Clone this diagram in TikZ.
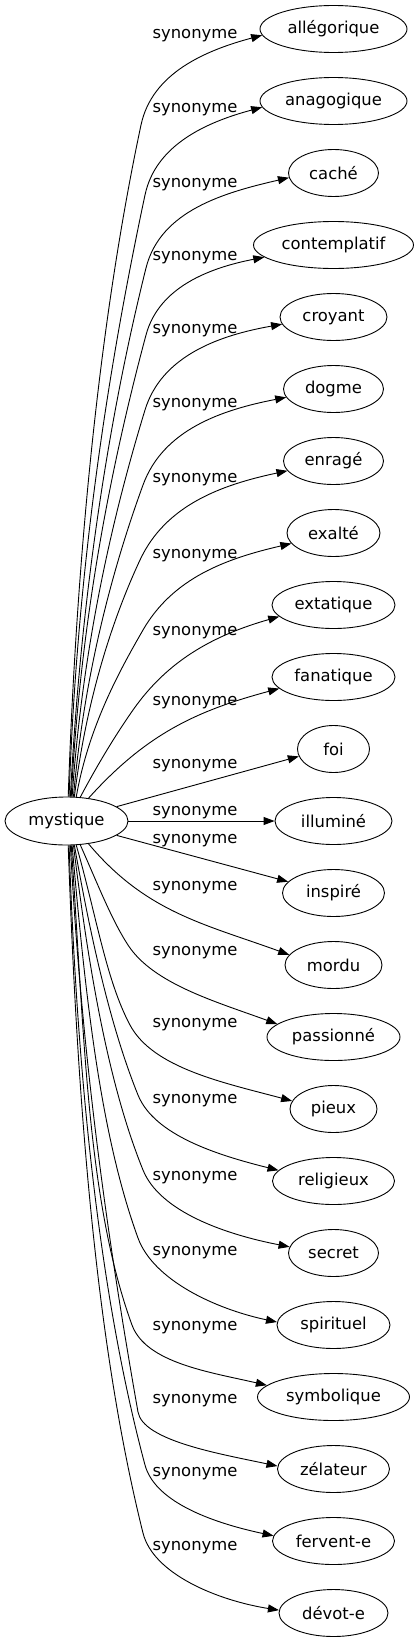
\documentclass[tikz,border=0pt]{standalone}
\usepackage{fontspec}
\setmainfont{DejaVu Sans}
\usetikzlibrary{shapes.geometric,arrows.meta}
\tikzset{
  ell/.style={draw, ellipse, line width=0.9pt, minimum height=47pt, inner sep=0pt, font=\fontsize{16.4pt}{19pt}\selectfont},
  lab/.style={inner sep=0pt, anchor=base, font=\fontsize{16.4pt}{19pt}\selectfont},
  edge/.style={line width=0.9pt, -{Triangle[length=11pt,width=8pt]}},
  up/.style={in looseness=0.7, out looseness=1},
}
\begin{document}
\begin{tikzpicture}[x=1pt,y=1pt]
\useasboundingbox (0,0) rectangle (419,-1643);
% center node
\node[ell, minimum width=123pt, minimum height=48pt] (m) at (66.5,-821) {mystique};
% targets
\node[ell, minimum width=147pt] (n0) at (333.5,-29) {allégorique};
\node[ell, minimum width=147pt] (n1) at (333.5,-101) {anagogique};
\node[ell, minimum width=90pt] (n2) at (333.5,-173) {caché};
\node[ell, minimum width=160pt] (n3) at (333.5,-245) {contemplatif};
\node[ell, minimum width=107pt] (n4) at (333.5,-317) {croyant};
\node[ell, minimum width=100pt] (n5) at (333.5,-389) {dogme};
\node[ell, minimum width=100pt] (n6) at (333.5,-461) {enragé};
\node[ell, minimum width=93pt] (n7) at (333.5,-533) {exalté};
\node[ell, minimum width=123pt] (n8) at (333.5,-605) {extatique};
\node[ell, minimum width=123pt] (n9) at (333.5,-677) {fanatique};
\node[ell, minimum width=72pt] (n10) at (333.5,-749) {foi};
\node[ell, minimum width=117pt] (n11) at (333.5,-821) {illuminé};
\node[ell, minimum width=102pt] (n12) at (333.5,-893) {inspiré};
\node[ell, minimum width=97pt] (n13) at (333.5,-965) {mordu};
\node[ell, minimum width=133pt] (n14) at (333.5,-1037) {passionné};
\node[ell, minimum width=87pt] (n15) at (333.5,-1109) {pieux};
\node[ell, minimum width=122pt] (n16) at (333.5,-1181) {religieux};
\node[ell, minimum width=90pt] (n17) at (333.5,-1253) {secret};
\node[ell, minimum width=113pt] (n18) at (333.5,-1325) {spirituel};
\node[ell, minimum width=152pt] (n19) at (333.5,-1397) {symbolique};
\node[ell, minimum width=112pt] (n20) at (333.5,-1469) {zélateur};
\node[ell, minimum width=122pt] (n21) at (333.5,-1541) {fervent-e};
\node[ell, minimum width=109pt] (n22) at (333.5,-1613) {dévot-e};
% labels
\node[lab] (l0) at (195,-39) {synonyme};
\node[lab] (l1) at (195,-113) {synonyme};
\node[lab] (l2) at (195,-187) {synonyme};
\node[lab] (l3) at (195,-260) {synonyme};
\node[lab] (l4) at (195,-333) {synonyme};
\node[lab] (l5) at (195,-407) {synonyme};
\node[lab] (l6) at (195,-482) {synonyme};
\node[lab] (l7) at (195,-558) {synonyme};
\node[lab] (l8) at (195,-635) {synonyme};
\node[lab] (l9) at (195,-705) {synonyme};
\node[lab] (l10) at (195,-768) {synonyme};
\node[lab] (l11) at (195,-815) {synonyme};
\node[lab] (l12) at (195,-843) {synonyme};
\node[lab] (l13) at (195,-890) {synonyme};
\node[lab] (l14) at (195,-955) {synonyme};
\node[lab] (l15) at (195,-1027) {synonyme};
\node[lab] (l16) at (195,-1103) {synonyme};
\node[lab] (l17) at (195,-1180) {synonyme};
\node[lab] (l18) at (195,-1255) {synonyme};
\node[lab] (l19) at (195,-1330) {synonyme};
\node[lab] (l20) at (195,-1403) {synonyme};
\node[lab] (l21) at (195,-1476) {synonyme};
\node[lab] (l22) at (195,-1550) {synonyme};
% upper edges
\draw[edge] (m.86.4) to[out=88,in=258,up] (141,-125) to[out=78,in=195,out looseness=0.9] (n0.185);
\draw[edge] (m.84) to[out=88,in=258,up] (145,-195) to[out=78,in=195,out looseness=0.9] (n1.185);
\draw[edge] (m.81.7) to[out=87,in=256,up] (146,-268) to[out=76,in=193,out looseness=0.9] (n2.186);
\draw[edge] (m.79.4) to[out=87,in=255,up] (146,-335) to[out=75,in=191,out looseness=0.9] (n3.190);
\draw[edge] (m.77.1) to[out=86,in=253,up] (145,-410) to[out=73,in=190,out looseness=0.9] (n4.188.5);
\draw[edge] (m.74.8) to[out=85,in=250,up] (143,-485) to[out=70,in=191,out looseness=0.9] (n5.190);
\draw[edge] (m.72.5) to[out=83,in=245,up] (140,-560) to[out=65,in=192,out looseness=0.9] (n6.192);
\draw[edge] (m.68.2) to[out=80,in=240,up] (143,-630) to[out=60,in=193,out looseness=0.9] (n7.194.5);
\draw[edge] (m.60) to[out=62,in=235,up] (133,-710) to[out=55,in=196,out looseness=0.9] (n8.192);
\draw[edge] (m.46.3) to[out=48,in=195] (n9.192);
\draw[edge] (m.16.9) -- (n10.192);
\draw[edge] (m) -- (n11);
% lower edges
\draw[edge] (m.-16.9) -- (n12.166);
\draw[edge] (m.-46.3) to[out=-50,in=160] (n13.167);
\draw[edge] (m.-60) to[out=-66,in=123,up] (128,-945) to[out=-57,in=160,out looseness=0.7] (n14.167);
\draw[edge] (m.-68.2) to[out=-74,in=118,up] (130,-1025) to[out=-62,in=165,out looseness=0.7] (n15.169.6);
\draw[edge] (m.-72.5) to[out=-80,in=112,up] (138,-1095) to[out=-68,in=166,out looseness=0.7] (n16.169);
\draw[edge] (m.-74.8) to[out=-83,in=112,up] (143,-1170) to[out=-68,in=169,out looseness=0.7] (n17.172.5);
\draw[edge] (m.-77.1) to[out=-85,in=110,up] (138,-1238) to[out=-70,in=168,out looseness=0.7] (n18.177);
\draw[edge] (m.-79.4) to[out=-86,in=110,up] (132,-1325) to[out=-70,in=167,out looseness=0.7] (n19.170);
\draw[edge] (m.-81.7) to[out=-87,in=100,up] (138,-1412) to[out=-80,in=168,out looseness=0.5] (n20.177);
\draw[edge] (m.-84) to[out=-88,in=105,up] (145,-1465) to[out=-75,in=168,out looseness=0.7] (n21.175.4);
\draw[edge] (m.-86.4) to[out=-88,in=104,up] (143,-1533) to[out=-76,in=171,out looseness=0.7] (n22.177);
\end{tikzpicture}
\end{document}
